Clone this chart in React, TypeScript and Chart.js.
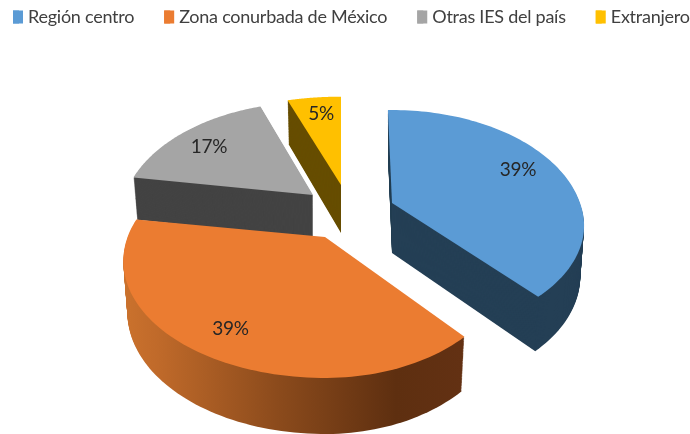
import React, { useEffect, useRef } from "react";
import { Chart, registerables } from "chart.js";

Chart.register(...registerables);

// ---- data ----
const categories = ["Región centro", "Zona conurbada de México", "Otras IES del país", "Extranjero"];
const shares = [39, 39, 17, 5];
const topColors = ["#5B9BD5", "#EB7C31", "#A5A5A5", "#FFC000"];
const wallColors = ["#243F55", "#613013", "#434343", "#664D00"];

// ---- layout / style of the tilted, exploded pie ----
const CANVAS_W = 790;
const CANVAS_H = 460;
const CANVAS_LEFT = -17;
const CANVAS_TOP = -22;
const FONT = "Lato";
const RADIUS = 188;
const TILT = 0.596;
const PERSPECTIVE = 0.205;
const labelRadius = [0.76, 0.83, 0.78, 0.78];
const labelNudgeX = [0, -1, -2, 2];
const labelNudgeY = [-4, -4, 3, 0];
const shiftX = [14, -53, -65, -37];
const shiftY = [-34, 0, -42, -52];
const scaleXLeft = [1, 1.05, 1, 1.1];
const scaleXRight = [1, 0.954, 1, 1.03];
const scaleYBack = [1, 1, 1, 0.95];
const scaleYFront = [0.94, 1, 1, 1];
const turn = [0, 0, 0, (1.5 * Math.PI) / 180];
const depths = [50, 50, 43, 48];
const paintOrder = [3, 2, 0, 1];

function project(arc: any, i: number, angle: number, rho: number, depth: number) {
  const theta = angle + turn[i];
  const u = Math.cos(theta) * rho;
  const v = Math.sin(theta) * rho;
  const w = 1 - PERSPECTIVE * v;
  const shrink = 1 - 0.02 * (depth / depths[i]);
  const sx = u < 0 ? scaleXLeft[i] : scaleXRight[i];
  const sy = v < 0 ? scaleYBack[i] : scaleYFront[i];
  return {
    x: arc.x + shiftX[i] + (RADIUS * sx * u * shrink) / w,
    y: arc.y + shiftY[i] + (RADIUS * TILT * sy * v) / w + depth * Math.sqrt(1 / w),
  };
}

function traceSector(ctx: CanvasRenderingContext2D, arc: any, i: number, depth: number) {
  const apex = project(arc, i, 0, 0, depth);
  ctx.beginPath();
  ctx.moveTo(apex.x, apex.y);
  const steps = 90;
  for (let s = 0; s <= steps; s++) {
    const t = arc.startAngle + ((arc.endAngle - arc.startAngle) * s) / steps;
    const p = project(arc, i, t, 1, depth);
    ctx.lineTo(p.x, p.y);
  }
  ctx.closePath();
}

const tiltedPie = {
  id: "tiltedPie",
  beforeLayout(chart: any) {
    chart.ctx.letterSpacing = "-0.25px";
  },
  beforeDatasetDraw() {
    return false;
  },
  afterDatasetsDraw(chart: any) {
    const ctx: CanvasRenderingContext2D = chart.ctx;
    const arcs = chart.getDatasetMeta(0).data;
    const orangeWall = ctx.createLinearGradient(123 - CANVAS_LEFT, 0, 464 - CANVAS_LEFT, 0);
    orangeWall.addColorStop(0, "#CB722D");
    orangeWall.addColorStop(0.1, "#C06A2A");
    orangeWall.addColorStop(0.45, "#8C4B1C");
    orangeWall.addColorStop(0.8, "#5E2F10");
    orangeWall.addColorStop(1, "#633113");
    ctx.save();
    for (const i of paintOrder) {
      const arc = arcs[i];
      ctx.fillStyle = i === 1 ? orangeWall : wallColors[i];
      for (let d = depths[i]; d > 0; d -= 1) {
        traceSector(ctx, arc, i, d);
        ctx.fill();
      }
      ctx.fillStyle = topColors[i];
      traceSector(ctx, arc, i, 0);
      ctx.fill();
    }
    ctx.fillStyle = "#262626";
    ctx.font = `19px ${FONT}`;
    ctx.textAlign = "center";
    ctx.textBaseline = "middle";
    arcs.forEach((arc: any, i: number) => {
      const mid = (arc.startAngle + arc.endAngle) / 2;
      const p = project(arc, i, mid, labelRadius[i], 0);
      ctx.fillText(`${shares[i]}%`, p.x + labelNudgeX[i], p.y + labelNudgeY[i]);
    });
    ctx.restore();
  },
  afterDraw(chart: any) {
    const ctx: CanvasRenderingContext2D = chart.ctx;
    chart.legend.legendHitBoxes.forEach((box: any, i: number) => {
      ctx.fillStyle = topColors[i];
      ctx.fillRect(box.left, box.top + box.height / 2 - 6.5, 10, 13);
    });
  },
};

export default function App() {
  const ref = useRef<HTMLCanvasElement>(null);
  useEffect(() => {
    const chart = new Chart(ref.current!, {
      type: "pie",
      data: {
        labels: categories,
        datasets: [{ data: shares, backgroundColor: topColors, borderWidth: 0, radius: RADIUS }],
      },
      options: {
        animation: false,
        responsive: false,
        devicePixelRatio: 1,
        rotation: -1.5,
        layout: { padding: 0 },
        plugins: {
          tooltip: { enabled: false },
          legend: {
            display: true,
            position: "top",
            align: "start",
            labels: {
              boxWidth: 6,
              boxHeight: 13,
              padding: 30,
              color: "#404040",
              font: { family: FONT, size: 18 },
            },
          },
        },
      },
      plugins: [tiltedPie],
    } as any);
    return () => chart.destroy();
  }, []);
  return (
    <div style={{ position: "fixed", left: 0, top: 0, width: 690, height: 434, overflow: "hidden", background: "#fff" }}>
      <canvas
        ref={ref}
        width={CANVAS_W}
        height={CANVAS_H}
        style={{ position: "absolute", left: CANVAS_LEFT, top: CANVAS_TOP, width: CANVAS_W, height: CANVAS_H }}
      />
    </div>
  );
}
